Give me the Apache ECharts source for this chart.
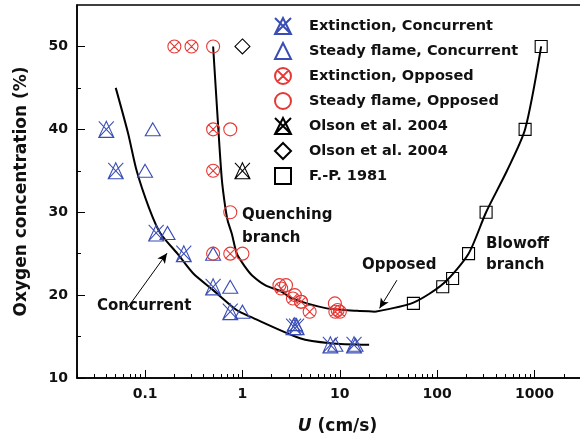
<!DOCTYPE html>
<html>
<head>
<meta charset="utf-8">
<script src="https://cdn.jsdelivr.net/npm/echarts@6/dist/echarts.min.js"></script>
<style>
  html, body { margin: 0; padding: 0; background: #fff; }
  #chart { width: 580px; height: 439px; }
</style>
</head>
<body>
<div id="chart"></div>
<script>
// axis ticks
const xMajor = [0.1, 1, 10, 100, 1000];
const xMinor = [0.02, 0.03, 0.04, 0.05, 0.06, 0.07, 0.08, 0.09,
  0.2, 0.3, 0.4, 0.5, 0.6, 0.7, 0.8, 0.9,
  2, 3, 4, 5, 6, 7, 8, 9,
  20, 30, 40, 50, 60, 70, 80, 90,
  200, 300, 400, 500, 600, 700, 800, 900, 2000, 3000];
const yMajor = [10, 20, 30, 40, 50];
const yMinor = [15, 25, 35, 45];

// Extinction, Concurrent
const extConcU  = [0.04, 0.05, 0.13, 0.25, 0.5, 0.75, 3.35, 3.6, 8, 14];
const extConcO2 = [40, 35, 27.5, 25, 21, 18, 16.2, 16.2, 14, 14];
// Steady flame, Concurrent
const stConcU  = [0.12, 0.1, 0.17, 0.5, 0.75, 1, 3.45, 9, 14.5];
const stConcO2 = [40, 35, 27.5, 25, 21, 18, 16.5, 14, 14];
// Extinction, Opposed
const extOppU  = [0.2, 0.3, 0.5, 0.5, 0.75, 2.5, 3.3, 4, 4.9, 9, 10];
const extOppO2 = [50, 50, 40, 35, 25, 20.8, 19.6, 19.2, 18, 18, 18];
// Steady flame, Opposed
const stOppU  = [0.5, 0.75, 0.75, 0.5, 1, 2.4, 2.8, 3.45, 4, 8.9, 9.5];
const stOppO2 = [50, 40, 30, 25, 25, 21.2, 21.2, 20, 19.2, 19, 18.2];
// Olson et al. 2004 (extinction)
const olsonExtU = [1];
const olsonExtO2 = [35];
// Olson et al. 2004 (steady)
const olsonStU = [1];
const olsonStO2 = [50];
// F.-P. 1981
const fpU  = [57, 114, 144, 210, 318, 800, 1170];
const fpO2 = [19, 21, 22, 25, 30, 40, 50];

// fitted curves
const concCurveU  = [0.05, 0.067, 0.082, 0.11, 0.143, 0.215, 0.313, 0.5, 0.87, 1.2, 3.9, 8, 20];
const concCurveO2 = [45, 39.5, 35, 30.5, 27.5, 25, 22.6, 20.6, 18.2, 17.4, 14.8, 14.2, 14];
const quenchU  = [0.5, 0.566, 0.614, 0.663, 0.705, 0.778, 0.876, 1.066, 1.25, 1.71, 2.54, 3.22, 7.36, 15, 23];
const quenchO2 = [50, 40, 34, 30.8, 29, 27.4, 25, 23.4, 22.4, 21.2, 20.4, 19.6, 18.4, 18.1, 18];
const blowU  = [23, 57, 116, 210, 318, 521, 800, 1170];
const blowO2 = [18, 19.1, 21.4, 25, 30, 35, 40, 50];

const zip = (u, o) => u.map((v, i) => [v, o[i]]);

const blue = '#3a4db5';
const red = '#e53935';
const FONT = 'DejaVu Sans';

const xTriPath = 'path://M0,0L10,10M10,0L0,10M5,0L0,10L10,10Z';
const triPath = 'path://M5,0L0,10L10,10Z';
const xCirPath = 'path://M0,5A5,5,0,1,1,10,5A5,5,0,1,1,0,5ZM1.46,1.46L8.54,8.54M8.54,1.46L1.46,8.54';
const cirPath = 'path://M0,5A5,5,0,1,1,10,5A5,5,0,1,1,0,5Z';
const diaPath = 'path://M5,0L10,5L5,10L0,5Z';
const sqPath = 'path://M0,0L10,0L10,10L0,10Z';

function pts(name, u, o, symbol, size, color) {
  return {
    name: name,
    type: 'scatter',
    data: zip(u, o),
    symbol: symbol,
    symbolSize: size,
    itemStyle: { color: 'rgba(0,0,0,0)', borderColor: color, borderWidth: 1.1, opacity: 1 },
    z: 3
  };
}

function curve(u, o, extra) {
  return Object.assign({
    type: 'line',
    data: zip(u, o),
    symbol: 'none',
    smooth: 0.25,
    silent: true,
    lineStyle: { color: '#000', width: 2 },
    z: 2
  }, extra || {});
}

const arrowStyle = {
  silent: true,
  symbol: ['none', 'arrow'],
  symbolSize: [7, 10],
  label: { show: false },
  lineStyle: { color: '#000', width: 1, type: 'solid' },
  emphasis: { disabled: true }
};

const chart = echarts.init(document.getElementById('chart'));
chart.setOption({
  animation: false,
  backgroundColor: '#fff',
  textStyle: { fontFamily: FONT },
  grid: {
    left: 77, top: 5, width: 504, bottom: 61, outerBoundsMode: 'none',
    show: true, borderColor: '#000', borderWidth: 1.5
  },
  legend: {
    orient: 'vertical',
    left: 269,
    top: 12,
    itemWidth: 16,
    itemHeight: 16,
    itemGap: 7,
    data: ['Extinction, Concurrent', 'Steady flame, Concurrent', 'Extinction, Opposed',
      'Steady flame, Opposed', 'Olson et al. 2004 ', 'Olson et al. 2004', 'F.-P. 1981'],
    textStyle: { color: '#111', fontFamily: FONT, fontWeight: 'bold', fontSize: 14.5, padding: [0, 0, 0, 13] }
  },
  xAxis: [{
    type: 'log',
    min: 0.02,
    max: 3000,
    position: 'bottom',
    name: '{i|U} (cm/s)',
    nameLocation: 'middle',
    nameGap: 40,
    nameTextStyle: {
      color: '#111', fontFamily: FONT, fontWeight: 'bold', fontSize: 17, padding: [0, 0, 0, 17],
      rich: { i: { fontStyle: 'italic', fontFamily: FONT, fontWeight: 'bold', fontSize: 17, color: '#111' } }
    },
    axisLine: { lineStyle: { color: '#000', width: 1.5 } },
    axisTick: { inside: true, length: 8, customValues: xMajor, lineStyle: { color: '#000', width: 1 } },
    axisLabel: {
      customValues: xMajor, margin: 9, color: '#111', fontFamily: FONT, fontWeight: 'bold', fontSize: 14,
      formatter: v => String(v)
    },
    splitLine: { show: false }
  }, {
    type: 'log',
    min: 0.02,
    max: 3000,
    position: 'bottom',
    axisLine: { show: false },
    axisTick: { inside: true, length: 4, customValues: xMinor, lineStyle: { color: '#000', width: 1 } },
    axisLabel: { show: false },
    splitLine: { show: false }
  }],
  yAxis: [{
    type: 'value',
    min: 10,
    max: 55,
    position: 'left',
    name: 'Oxygen concentration (%)',
    nameLocation: 'middle',
    nameGap: 47,
    nameTextStyle: { color: '#111', fontFamily: FONT, fontWeight: 'bold', fontSize: 17 },
    axisLine: { show: true, lineStyle: { color: '#000', width: 1.5 } },
    axisTick: { show: true, inside: true, length: 8, customValues: yMajor, lineStyle: { color: '#000', width: 1 } },
    axisLabel: { customValues: yMajor, margin: 9, color: '#111', fontFamily: FONT, fontWeight: 'bold', fontSize: 14 },
    splitLine: { show: false }
  }, {
    type: 'value',
    min: 10,
    max: 55,
    position: 'left',
    axisLine: { show: false },
    axisTick: { show: true, inside: true, length: 4, customValues: yMinor, lineStyle: { color: '#000', width: 1 } },
    axisLabel: { show: false },
    splitLine: { show: false }
  }],
  graphic: [
    { type: 'text', left: 242, top: 204, style: { text: 'Quenching\nbranch', fontFamily: FONT, fontWeight: 'bold', fontSize: 15, lineHeight: 23, fill: '#111' } },
    { type: 'text', left: 97, top: 299, style: { text: 'Concurrent', fontFamily: FONT, fontWeight: 'bold', fontSize: 15, fill: '#111' } },
    { type: 'text', left: 362, top: 258, style: { text: 'Opposed', fontFamily: FONT, fontWeight: 'bold', fontSize: 15, fill: '#111' } },
    { type: 'text', left: 486, top: 234, style: { text: 'Blowoff\nbranch', fontFamily: FONT, fontWeight: 'bold', fontSize: 15, lineHeight: 21, fill: '#111' } }
  ],
  series: [
    curve(concCurveU, concCurveO2, {
      markLine: Object.assign({ data: [[{ coord: [0.0669, 18.55] }, { coord: [0.168, 25.06] }]] }, arrowStyle)
    }),
    curve(quenchU, quenchO2, {
      markLine: Object.assign({ data: [[{ coord: [38.6, 21.8] }, { coord: [25.6, 18.4] }]] }, arrowStyle)
    }),
    curve(blowU, blowO2),
    pts('Extinction, Concurrent', extConcU, extConcO2, xTriPath, [15, 16], blue),
    pts('Steady flame, Concurrent', stConcU, stConcO2, triPath, [15, 13], blue),
    pts('Extinction, Opposed', extOppU, extOppO2, xCirPath, 13, red),
    pts('Steady flame, Opposed', stOppU, stOppO2, cirPath, 13, red),
    pts('Olson et al. 2004 ', olsonExtU, olsonExtO2, xTriPath, [15, 16], '#000'),
    pts('Olson et al. 2004', olsonStU, olsonStO2, diaPath, 15, '#000'),
    pts('F.-P. 1981', fpU, fpO2, sqPath, 12, '#000')
  ]
});
</script>
</body>
</html>
